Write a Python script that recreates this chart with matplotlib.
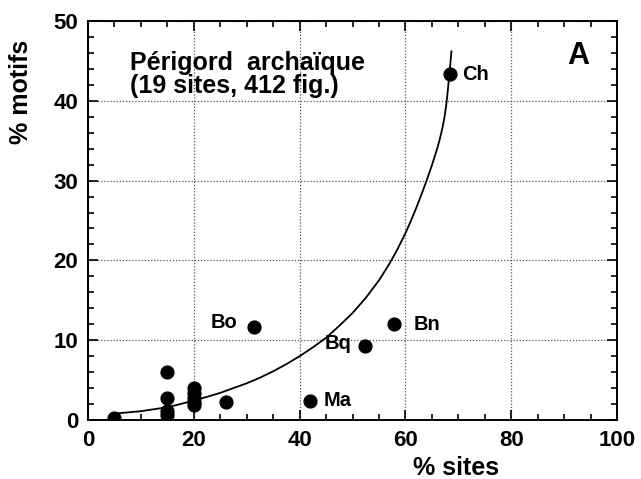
import numpy as np
import matplotlib.pyplot as plt
from matplotlib.ticker import MultipleLocator

# sites data (% sites, % motifs)
site_x = [5, 15, 15, 15, 15, 20, 20, 20, 20, 20, 26, 31.3, 41.9, 52.4, 57.9, 68.4]
site_y = [0.2, 6.0, 2.8, 1.1, 0.6, 4.0, 3.4, 2.8, 2.3, 1.9, 2.2, 11.7, 2.4, 9.3, 12.0, 43.3]

# fitted curve
curve_x = [5, 7.5, 10, 12.5, 15, 17.5, 20, 22.5, 25, 27.5, 30, 32.5, 35, 37.5, 40,
           42.5, 45, 47.5, 50, 52.5, 55, 57, 58.5, 60, 61, 62, 63, 64, 65, 66,
           66.5, 67, 67.4, 67.7, 68.0, 68.3, 68.5, 68.7]
curve_y = [0.8, 0.95, 1.1, 1.35, 1.6, 2.0, 2.45, 2.9, 3.4, 4.0, 4.6, 5.3, 6.1, 7.0, 8.0,
           9.1, 10.3, 11.8, 13.4, 15.3, 17.5, 19.6, 21.4, 23.4, 24.9, 26.5, 28.2, 30.0,
           31.9, 34.0, 35.2, 36.6, 38.0, 39.4, 41.2, 43.3, 44.7, 46.2]

labels = ["Bo", "Ma", "Bq", "Bn", "Ch"]
label_x = [28.3, 44.6, 49.8, 61.6, 70.8]
label_y = [12.2, 2.4, 9.6, 12.0, 43.3]
label_ha = ["right", "left", "right", "left", "left"]

plt.rcParams['font.family'] = ['Liberation Sans', 'DejaVu Sans']
plt.rcParams['font.weight'] = 'bold'

fig = plt.figure(figsize=(6.41, 4.79), dpi=100)
ax = fig.add_axes([0.1373, 0.1232, 0.8253, 0.8330])

ax.plot(curve_x, curve_y, color='black', lw=1.3, zorder=3)
ax.scatter(site_x, site_y, s=85, color='black', zorder=4)

for t, x, y, ha in zip(labels, label_x, label_y, label_ha):
    ax.text(x, y, t, ha=ha, va='center', fontsize=14.5, fontweight='bold')

ax.text(7.9, 46.3, "Périgord  archaïque\n(19 sites, 412 fig.)", fontsize=18,
        fontweight='bold', va='top', ha='left', linespacing=0.95)
ax.text(92.6, 45.6, "A", fontsize=22, fontweight='bold', ha='center', va='center')

ax.set_xlim(0, 100)
ax.set_ylim(0, 50)
ax.xaxis.set_major_locator(MultipleLocator(20))
ax.xaxis.set_minor_locator(MultipleLocator(5))
ax.yaxis.set_major_locator(MultipleLocator(10))
ax.yaxis.set_minor_locator(MultipleLocator(2))
ax.tick_params(which='both', direction='in', top=True, right=True, width=1.2,
               labelsize=16)
ax.tick_params(which='major', length=7, pad=7)
ax.tick_params(which='minor', length=4)
for lab in ax.get_xticklabels() + ax.get_yticklabels():
    lab.set_fontweight('bold')
for sp in ax.spines.values():
    sp.set_linewidth(1.4)
ax.grid(True, which='major', linestyle=(0, (1, 1.5)), color='#555555', lw=0.9)

fig.text(456 / 641, 1 - 468 / 479, "% sites", fontsize=18, fontweight='bold',
         ha='center', va='center')
fig.text(21 / 641, 1 - 92 / 479, "% motifs", fontsize=18, fontweight='bold',
         ha='center', va='center', rotation=90)

fig.savefig('out.png', dpi=100)
